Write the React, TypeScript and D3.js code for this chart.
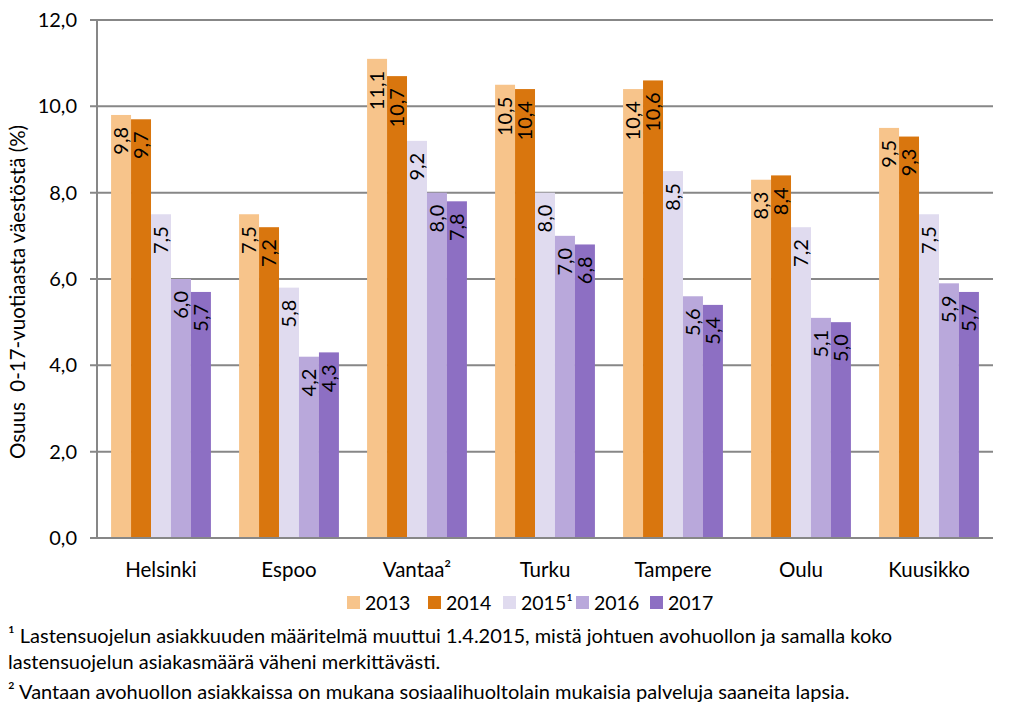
import React from "react";
import * as d3 from "d3";

const categories = ["Helsinki", "Espoo", "Vantaa²", "Turku", "Tampere", "Oulu", "Kuusikko"];
const seriesNames = ["2013", "2014", "2015¹", "2016", "2017"];
const v2013 = [9.8, 7.5, 11.1, 10.5, 10.4, 8.3, 9.5];
const v2014 = [9.7, 7.2, 10.7, 10.4, 10.6, 8.4, 9.3];
const v2015 = [7.5, 5.8, 9.2, 8.0, 8.5, 7.2, 7.5];
const v2016 = [6.0, 4.2, 8.0, 7.0, 5.6, 5.1, 5.9];
const v2017 = [5.7, 4.3, 7.8, 6.8, 5.4, 5.0, 5.7];
const seriesValues = [v2013, v2014, v2015, v2016, v2017];
const colors = ["#F7C48B", "#D9760E", "#E0DBEF", "#B9A8DB", "#8D6FC3"];
const yTicks = [0, 2, 4, 6, 8, 10, 12];
const footnotes = [
  "¹ Lastensuojelun asiakkuuden määritelmä muuttui 1.4.2015, mistä johtuen avohuollon ja samalla koko",
  "lastensuojelun asiakasmäärä väheni merkittävästi.",
  "² Vantaan avohuollon asiakkaissa on mukana sosiaalihuoltolain mukaisia palveluja saaneita lapsia.",
];
const yTitle = "Osuus  0-17-vuotiaasta väestöstä (%)";

const W = 1011;
const H = 706;
const left = 97;
const right = 993;
const top = 20;
const bottom = 538;
const font = "Lato, 'Open Sans', sans-serif";

export default function App() {
  const x = d3.scaleBand<string>().domain(categories).range([left, right]).paddingInner(0.22).paddingOuter(0.11);
  const xs = d3.scaleBand<string>().domain(seriesNames).range([0, x.bandwidth()]);
  const y = d3.scaleLinear().domain([0, 12]).range([bottom, top]);
  const fmt = (v: number) => v.toFixed(1).replace(".", ",");
  const legendX = [347, 428, 503, 576, 650];

  return (
    <svg width={W} height={H} style={{ position: "absolute", left: 0, top: 0, background: "#fff" }}>
      <rect x={0} y={0} width={W} height={H} fill="#fff" />
      {yTicks.map((t) => (
        <g key={t}>
          <line x1={left - 7} x2={right} y1={y(t)} y2={y(t)} stroke="#878787" strokeWidth={2} />
          <text x={77} y={y(t)} dy="0.35em" textAnchor="end" fontFamily={font} fontSize={20} fill="#000">
            {fmt(t)}
          </text>
        </g>
      ))}
      <line x1={left} x2={left} y1={top} y2={bottom} stroke="#878787" strokeWidth={2} />
      {categories.map((c, ci) => (
        <g key={c}>
          {seriesNames.map((s, si) => {
            const v = seriesValues[si][ci];
            const bx = (x(c) as number) + (xs(s) as number);
            return (
              <rect key={s} x={bx} y={y(v)} width={xs.bandwidth()} height={y(0) - y(v)} fill={colors[si]} />
            );
          })}
          {seriesNames.map((s, si) => {
            const v = seriesValues[si][ci];
            const cx = (x(c) as number) + (xs(s) as number) + xs.bandwidth() / 2;
            const ty = y(v) + 12;
            return (
              <text
                key={s}
                transform={`translate(${cx},${ty}) rotate(-90)`}
                textAnchor="end"
                dy="0.35em"
                fontFamily={font}
                fontSize={20}
                fill="#000"
              >
                {fmt(v)}
              </text>
            );
          })}
          <text
            x={(x(c) as number) + x.bandwidth() / 2}
            y={577}
            textAnchor="middle"
            fontFamily={font}
            fontSize={20.5}
            fill="#000"
          >
            {c}
          </text>
        </g>
      ))}
      <line x1={left} x2={right} y1={bottom} y2={bottom} stroke="#878787" strokeWidth={2} />
      <text
        transform={`translate(25,${(top + bottom) / 2 + 13}) rotate(-90)`}
        textAnchor="middle"
        fontFamily={font}
        fontSize={20.5}
        fill="#000"
        style={{ whiteSpace: "pre" }}
      >
        {yTitle}
      </text>
      {seriesNames.map((s, si) => (
        <g key={s}>
          <rect x={legendX[si]} y={596} width={13} height={13} fill={colors[si]} />
          <text x={legendX[si] + 18} y={603} dy="0.35em" fontFamily={font} fontSize={19.5} fill="#000">
            {s}
          </text>
        </g>
      ))}
      {footnotes.map((f, i) => (
        <text key={i} x={8} y={[643, 669, 699][i]} fontFamily={font} fontSize={20} fill="#000">
          {f}
        </text>
      ))}
    </svg>
  );
}
